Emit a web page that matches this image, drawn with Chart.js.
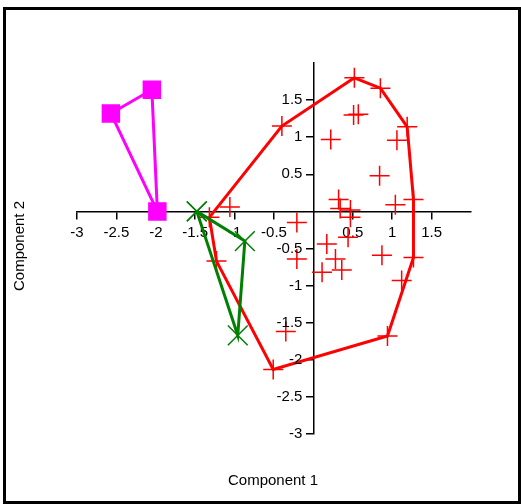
<!DOCTYPE html>
<html>
<head>
<meta charset="utf-8">
<script src="https://cdn.jsdelivr.net/npm/chart.js@4.4.1/dist/chart.umd.min.js"></script>
<style>
  html, body { margin: 0; padding: 0; background: #fff; }
  #wrap { position: relative; width: 521px; height: 504px; overflow: hidden; }
  #frame { position: absolute; left: 3px; top: 7px; width: 518px; height: 497px; box-sizing: border-box; border: 3px solid #000; }
  canvas { position: absolute; left: 0; top: 0; }
</style>
</head>
<body>
<div id="wrap">
  <canvas id="chart" width="521" height="504"></canvas>
  <div id="frame"></div>
</div>
<script>
// red group: hull vertices (in drawing order) and the points inside
const redHullX = [0.52, 0.85, 1.19, 1.27, 1.27, 0.94, -0.51, -1.23, -1.32, -0.40];
const redHullY = [1.80, 1.66, 1.14, 0.16, -0.62, -1.68, -2.13, -0.67, -0.08, 1.15];
const redInnerX = [-1.06, 0.51, 0.57, 0.22, 1.06, 0.84, 0.32, 0.34, 0.47, 1.04, 0.47, -0.21, 0.44, 0.17, 0.28, -0.21, 0.87, 0.11, 0.36, 1.12, -0.35];
const redInnerY = [0.06, 1.30, 1.31, 0.97, 0.96, 0.48, 0.16, 0.04, 0.02, 0.09, -0.08, -0.15, -0.35, -0.44, -0.64, -0.64, -0.59, -0.82, -0.79, -0.93, -1.62];

// magenta group (squares) and green group (x marks)
const magentaX = [-2.57, -2.05, -1.98];
const magentaY = [1.32, 1.64, 0.00];
const greenX = [-1.48, -0.87, -0.96];
const greenY = [0.00, -0.40, -1.67];

const xTicks = [-3, -2.5, -2, -1.5, -1, -0.5, 0.5, 1, 1.5];
const yTicks = [-3, -2.5, -2, -1.5, -1, -0.5, 0.5, 1, 1.5];
const xTitle = 'Component 1';
const yTitle = 'Component 2';

const FONT = "'Liberation Sans', Arial, sans-serif";
const TICK_LEN = 7;

function toPoints(xs, ys) {
    return xs.map((x, i) => ({ x: x, y: ys[i] }));
}
function closed(xs, ys) {
    const pts = toPoints(xs, ys);
    pts.push(pts[0]);
    return pts;
}

function outline(data, color, order) {
    return { data, showLine: true, borderColor: color, borderWidth: 3, pointRadius: 0, fill: false, tension: 0, order };
}
function markers(data, color, style, radius, filled, order) {
    return {
        data, showLine: false, pointStyle: style, pointRadius: radius, pointHoverRadius: radius,
        pointBorderColor: color, pointBackgroundColor: filled ? color : 'transparent',
        pointBorderWidth: 1.5, order
    };
}

// axis titles at the figure edges; y labels placed by hand because
// Chart.js does not offset them when the axis sits at x = 0
const axisText = {
    id: 'axisText',
    afterDraw(chart) {
        const ctx = chart.ctx;
        const xs = chart.scales.x, ys = chart.scales.y;
        ctx.save();
        ctx.fillStyle = '#000';
        ctx.font = '15px ' + FONT;
        ctx.textAlign = 'right';
        ctx.textBaseline = 'middle';
        const x0 = xs.getPixelForValue(0);
        yTicks.forEach(v => ctx.fillText(String(v), x0 - TICK_LEN - 4, ys.getPixelForValue(v)));

        ctx.textAlign = 'center';
        ctx.fillText(xTitle, 273, 481);
        ctx.translate(20, 246);
        ctx.rotate(-Math.PI / 2);
        ctx.fillText(yTitle, 0, 0);
        ctx.restore();
    }
};

function axisOpts(ticks, cross, horizontal) {
    return {
        type: 'linear', min: -3, max: 2,
        position: cross,
        afterBuildTicks: s => { s.ticks = ticks.map(v => ({ value: v })); },
        afterFit: s => { if (horizontal) s.height = 0; else s.width = 0; },
        grid: { drawOnChartArea: false, drawTicks: true, tickLength: TICK_LEN, color: '#000', lineWidth: 1.5 },
        border: { color: '#000', width: 1.5 },
        ticks: {
            display: horizontal,
            color: '#000', padding: 5, autoSkip: false, maxRotation: 0,
            font: { family: FONT, size: 15 },
            callback: v => String(v)
        }
    };
}

new Chart(document.getElementById('chart'), {
    type: 'scatter',
    data: {
        datasets: [
            markers(closed(greenX, greenY), '#008000', 'crossRot', 14, false, 0),
            outline(closed(greenX, greenY), '#008000', 1),
            markers(toPoints(magentaX, magentaY), '#ff00ff', 'rect', 12, true, 2),
            outline(closed(magentaX, magentaY), '#ff00ff', 3),
            markers(toPoints(redHullX, redHullY).concat(toPoints(redInnerX, redInnerY)), '#ff0000', 'cross', 10, false, 4),
            outline(closed(redHullX, redHullY), '#ff0000', 5)
        ]
    },
    options: {
        responsive: false,
        animation: false,
        events: [],
        layout: { padding: { left: 77, right: 50, top: 63, bottom: 70 } },
        plugins: { legend: { display: false }, tooltip: { enabled: false } },
        scales: {
            x: axisOpts(xTicks, { y: 0 }, true),
            y: axisOpts(yTicks, { x: 0 }, false)
        }
    },
    plugins: [axisText]
});
</script>
</body>
</html>
